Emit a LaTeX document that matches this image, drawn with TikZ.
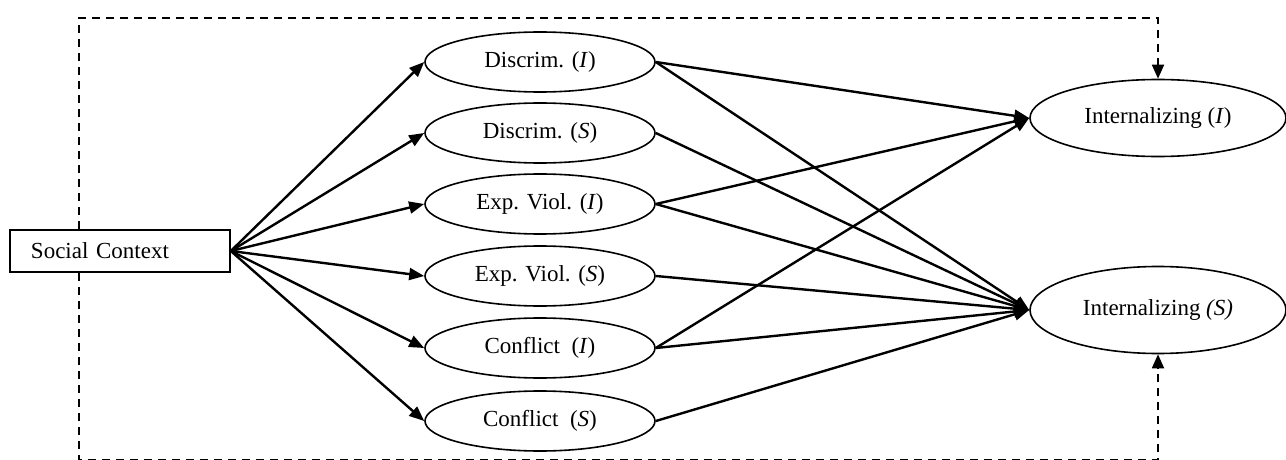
\documentclass[tikz,border=0pt]{standalone}
\usepackage{fontspec}
\setmainfont{Liberation Serif}
\usetikzlibrary{shapes.geometric,arrows.meta}
\begin{document}
\begin{tikzpicture}[x=0.5pt,y=-0.5pt,
	every node/.style={font=\fontsize{11.5}{13}\selectfont},
	link/.style={line width=1.2pt,-{Triangle[length=7.5pt,width=6pt]}},
	dashlink/.style={line width=0.9pt,dash pattern=on 4pt off 3pt,-{Triangle[length=7pt,width=6pt]}}]
				\useasboundingbox (0,0) rectangle (1286,460);
				
				\node (SocialContext) [rectangle,draw,line width=0.8pt,minimum height=21pt,text width=89pt,inner xsep=10.5pt,align=left] at (120,251) {Social Context};
				\begin{scope}[every node/.style={ellipse,draw,line width=0.8pt,inner sep=0pt,minimum width=115pt,minimum height=30pt,font=\fontsize{11.5}{13}\selectfont}]
					\node (DiscrimI) at (540,62) {Discrim. (\textit{I})};
					\node (DiscrimS) at (540,133) {Discrim. (\textit{S})};
					\node (ExpViolI) at (540,204) {Exp. Viol. (\textit{I})};
					\node (ExpViolS) at (540,276) {Exp. Viol. (\textit{S})};
					\node (ConflictI) at (540,348) {Conflict\ \ (\textit{I})};
					\node (ConflictS) at (540,421) {Conflict\ \ (\textit{S})};
					\node (InternI) [minimum width=128pt,minimum height=38.5pt] at (1158,118) {Internalizing (\textit{I})};
					\node (InternS) [minimum width=128pt,minimum height=43.5pt] at (1158,310) {Internalizing \textit{(S)}};
				\end{scope}
				
				\path [link] (SocialContext.east) edge (DiscrimI.west) edge (DiscrimS.west) edge (ExpViolI.west)
					edge (ExpViolS.west) edge (ConflictI.west) edge (ConflictS.west);
				\path [link] (DiscrimI.east) edge (InternI.west) edge (InternS.west);
				\path [link] (DiscrimS.east) edge (InternS.west);
				\path [link] (ExpViolI.east) edge (InternI.west) edge (InternS.west);
				\path [link] (ExpViolS.east) edge (InternS.west);
				\path [link] (ConflictI.east) edge (InternI.west) edge (InternS.west);
				\path [link] (ConflictS.east) edge (InternS.west);
				
				\coordinate (TopLeft) at (79,18);
				\coordinate (BottomLeft) at (79,460);
				\draw [dashlink] (SocialContext.north -| TopLeft) -- (TopLeft) -| (InternI.north);
				\draw [dashlink] (SocialContext.south -| BottomLeft) -- (BottomLeft) -| (InternS.south);
			\end{tikzpicture}
\end{document}
